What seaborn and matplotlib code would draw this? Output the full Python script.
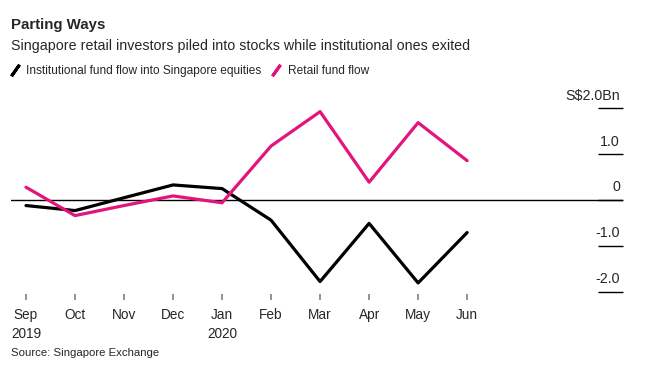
import pandas as pd
import numpy as np
import matplotlib.pyplot as plt
import matplotlib.transforms as mtransforms
from matplotlib.lines import Line2D
import seaborn as sns

# Data (S$ billions)
months = ['Sep', 'Oct', 'Nov', 'Dec', 'Jan', 'Feb', 'Mar', 'Apr', 'May', 'Jun']
tick_labels = ['Sep\n2019', 'Oct', 'Nov', 'Dec', 'Jan\n2020', 'Feb', 'Mar', 'Apr', 'May', 'Jun']
institutional = [-0.12, -0.23, 0.05, 0.33, 0.25, -0.44, -1.78, -0.51, -1.81, -0.71]
retail = [0.28, -0.34, -0.12, 0.09, -0.06, 1.18, 1.93, 0.39, 1.69, 0.86]
series_names = ['Institutional fund flow into Singapore equities', 'Retail fund flow']
y_ticks = [2.0, 1.0, 0.0, -1.0, -2.0]
y_tick_labels = ['S$2.0Bn', '1.0', '0', '-1.0', '-2.0']

colors = ['#000000', '#e3147d']

df = pd.DataFrame({
    'idx': list(range(len(months))) * 2,
    'value': institutional + retail,
    'series': [series_names[0]] * len(months) + [series_names[1]] * len(months),
})

sns.set_style('white')
plt.rcParams['font.family'] = ['Liberation Sans', 'DejaVu Sans']

fig = plt.figure(figsize=(6.49, 3.83), dpi=100)
ax = fig.add_axes([11 / 649, 0.2326, 612 / 649, 0.5201])

sns.lineplot(data=df, x='idx', y='value', hue='series', palette=colors,
             linewidth=2.3, legend=False, ax=ax, zorder=3)

ax.set_xlim(-0.306, 12.18)
ax.set_ylim(-2.05, 2.3)
for s in ax.spines.values():
    s.set_visible(False)

# zero line
ax.axhline(0, color='black', linewidth=1.0, zorder=2)

# x ticks
ax.set_xticks(range(len(months)))
ax.set_xticklabels(tick_labels, fontsize=9.8, linespacing=1.45)
ax.tick_params(axis='x', length=4, width=1.3, color='#8a8a8a', pad=6, bottom=True)

# y ticks: short lines on the right with labels above them
ax.set_yticks(y_ticks)
ax.tick_params(axis='y', direction='in', length=18, width=1.0, color='black',
               left=False, right=True, labelleft=False, labelright=False)
trans = mtransforms.blended_transform_factory(ax.transAxes, ax.transData)
for v, lab in zip(y_ticks, y_tick_labels):
    ax.annotate(lab, xy=(0.995, v), xycoords=trans, xytext=(0, 4),
                textcoords='offset points', ha='right', va='bottom', fontsize=10.3)

ax.set_xlabel('')
ax.set_ylabel('')
ax.grid(False)

# titles
fig.text(11 / 649, 1 - 25 / 383, 'Parting Ways', fontsize=10.8, fontweight='bold',
         va='center', ha='left')
fig.text(11 / 649, 1 - 46 / 383,
         'Singapore retail investors piled into stocks while institutional ones exited',
         fontsize=10.3, va='center', ha='left')

# legend with slanted markers
handles = [Line2D([], [], color=c, linestyle='none', marker=(2, 2, -35),
                  markersize=10, markeredgewidth=2.2) for c in colors]
fig.legend(handles, series_names, loc='center left', bbox_to_anchor=(4 / 649, 1 - 71 / 383),
           frameon=False, ncol=2, fontsize=8.6, handlelength=1.0, handletextpad=0.45,
           columnspacing=0.75, borderaxespad=0)

fig.text(11 / 649, 1 - 353 / 383, 'Source: Singapore Exchange', fontsize=8.2,
         va='center', ha='left')

fig.savefig('out.png', dpi=100, facecolor='white')
